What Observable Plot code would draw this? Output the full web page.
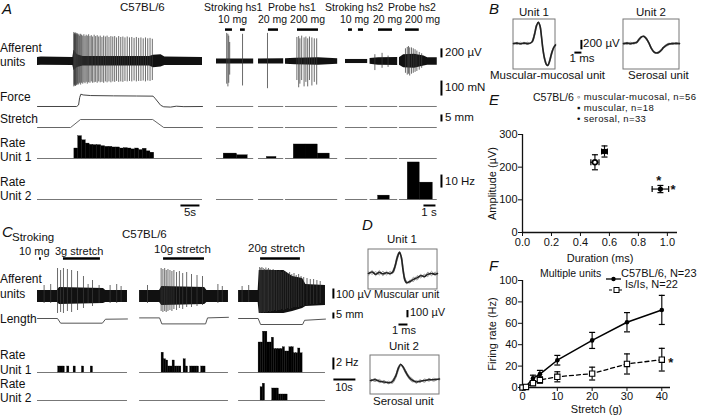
<!DOCTYPE html>
<html><head><meta charset="utf-8">
<script src="https://cdn.jsdelivr.net/npm/d3@7"></script>
<script src="https://cdn.jsdelivr.net/npm/@observablehq/plot@0.6"></script>
<style>
body{margin:0;background:#fff;}
#fig{position:relative;width:720px;height:415px;overflow:hidden;background:#fff;font-family:"Liberation Sans",Arial,sans-serif;color:#111;}
#fig div.t{position:absolute;white-space:nowrap;}
</style></head><body><div id="fig"></div>
<script>
// ======================= DATA =======================
// ---- Panel A, left recording (t in s; afferent µV; force mN; stretch mm; rate Hz) ----
const segA1 = [[0, 43.4]];
const noiseA1 = [[0,0,90,-90],[0,1,100,-80],[0,9.3,90,-90],[0,9.6,250,-200],[0,10.5,150,-130],[0,12,110,-100],[0,29.5,110,-100],[0,30.5,140,-140],[0,32.5,150,-120],[0,33.5,100,-90],[0,43.4,90,-90]];
const spikesA1 = [[9.55,640,560],[9.65,600,520],[9.75,620,540],[9.85,580,500],[9.95,630,550],[10.05,600,540],[10.2,620,520],[10.35,590,530],[10.5,610,500],[10.7,580,520],[10.9,600,500],[11.1,560,480],[11.35,600,520],[11.6,580,480],[11.9,560,500],[12.2,590,470],[12.5,550,490],[12.8,580,460],[13.1,560,500],[13.45,590,470],[13.8,550,480],[14.15,570,450],[14.5,540,480],[14.9,580,470],[15.3,550,460],[15.7,570,480],[16.1,540,450],[16.5,560,470],[16.95,530,460],[17.4,560,480],[17.85,540,450],[18.3,560,470],[18.8,530,450],[19.3,550,470],[19.8,540,450],[20.3,550,460],[20.8,520,440],[21.35,550,460],[21.9,530,450],[22.45,540,460],[23.0,520,440],[23.6,540,450],[24.2,520,440],[24.8,530,450],[25.4,510,430],[26.0,530,450],[26.6,510,440],[27.2,520,440],[27.8,500,430],[28.4,520,450],[29.0,500,430],[29.6,510,440],[30.2,490,420]];
const forceA1 = [[0,0],[10.3,0],[10.8,10],[11.1,60],[11.4,82],[12,77],[14,73],[20,71],[26,70],[30.4,69],[30.9,55],[32.4,8],[33.2,-2],[35,-4],[36.5,2],[38.5,-1],[43.4,0]];
const stretchA1 = [[0,0],[8.7,0],[11.3,5.7],[30.3,5.7],[33.2,0],[43.4,0]];
const rateA1Start = 9.7; // first 1-s bin
const rateA1 = [7.7,17.2,14.0,11.5,10.5,10.3,10.3,9.5,9.0,9.0,8.5,8.5,7.7,8.0,7.7,7.0,7.7,6.5,7.5,5.5,4.5];

// ---- Panel A, right recordings (stroking / probing) ----
const segA2 = [[0,3.1],[3.5,5.6],[5.75,10.1],[10.75,12.6],[12.8,15.1],[15.25,18.4]];
const stimA2 = [[0.75,1.33],[2.0,2.4],[4.33,5.17],[6.75,8.5],[11.0,11.33],[11.83,12.25],[13.5,14.67],[15.75,16.9]];
const noiseA2 = [[0,0,55,-55],[0,3.1,55,-55],[1,3.5,55,-55],[1,5.6,60,-55],[2,5.75,60,-60],[2,6.6,70,-70],[2,8.5,80,-80],[2,10.1,60,-60],[3,10.75,45,-45],[3,12.6,45,-45],[4,12.8,65,-60],[4,13.5,85,-85],[4,15.1,90,-90],[5,15.25,80,-80],[5,15.6,150,-140],[5,16.5,160,-150],[5,17.3,120,-100],[5,17.6,85,-85],[5,18.4,85,-85]];
const spikesA2 = [[0.85,620,500],[0.95,600,560],[1.02,560,480],[1.1,420,300],[2.17,600,540],[4.25,620,600],[6.7,530,420],[6.85,550,580],[6.95,500,500],[7.1,560,420],[7.3,520,560],[7.45,540,460],[7.6,500,560],[7.75,540,420],[7.95,520,540],[8.15,500,460],[8.35,500,520],[13.2,150,200],[13.8,180,150],[14.3,120,130],[15.75,280,260],[15.9,310,300],[16.0,330,280],[16.1,300,320],[16.25,300,280],[16.4,280,260],[16.55,260,240],[16.7,230,220],[16.9,200,190],[17.1,170,150]];
const rateA2u1 = [[0.6,1.7,3.8],[1.7,2.6,2.5],[4.2,5.0,1.2],[6.44,7.42,10.8],[7.42,8.44,10.8],[8.44,9.44,3.8]];
const rateA2u2 = [[13.47,14.44,3],[15.94,16.94,28.5],[16.94,18.03,13]];

// ---- Panel B waveforms (t in ms, µV) ----
const wfB1 = [[0,0],[0.5,10],[1,-5],[1.5,10],[2,0],[2.4,10],[2.7,50],[3.0,200],[3.3,400],[3.55,470],[3.8,380],[4.0,150],[4.2,-120],[4.45,-340],[4.7,-460],[4.9,-480],[5.15,-390],[5.4,-240],[5.65,-120],[5.85,-60],[6,-30]];
const wfB1a = [[0,30],[0.5,-20],[1,30],[1.5,-10],[2,30],[2.4,0],[2.7,80],[3.0,240],[3.3,420],[3.55,450],[3.8,340],[4.0,100],[4.2,-160],[4.45,-370],[4.7,-470],[4.9,-460],[5.15,-360],[5.4,-200],[5.65,-100],[5.85,-40],[6,-10]];
const wfB1b = [[0,-30],[0.5,30],[1,-20],[1.5,30],[2,-20],[2.4,20],[2.7,30],[3.0,160],[3.3,370],[3.55,480],[3.8,410],[4.0,190],[4.2,-80],[4.45,-300],[4.7,-440],[4.9,-490],[5.15,-420],[5.4,-280],[5.65,-150],[5.85,-80],[6,-50]];
const wfB2 = [[0,0],[0.5,10],[1,0],[1.5,10],[1.9,30],[2.2,90],[2.5,140],[2.85,160],[3.2,120],[3.6,20],[4.0,-110],[4.4,-190],[4.85,-205],[5.3,-160],[5.7,-90],[6.1,-40],[6.5,-10],[7,0],[7.5,5],[8,0]];
const wfB2a = [[0,30],[0.5,-20],[1,30],[1.5,-10],[1.9,50],[2.2,110],[2.5,150],[2.85,150],[3.2,100],[3.6,0],[4.0,-130],[4.4,-200],[4.85,-190],[5.3,-140],[5.7,-70],[6.1,-20],[6.5,10],[7,-20],[7.5,20],[8,-10]];
const wfB2b = [[0,-30],[0.5,30],[1,-20],[1.5,30],[1.9,10],[2.2,60],[2.5,120],[2.85,170],[3.2,140],[3.6,40],[4.0,-90],[4.4,-170],[4.85,-215],[5.3,-180],[5.7,-110],[6.1,-60],[6.5,-30],[7,20],[7.5,-15],[8,20]];

// ---- Panel C (t in s; afferent µV; length mm; rate Hz) ----
const segC = [[0,40.9],[46.4,86.8],[91.4,130.9]];
const stimC = [[0.9,1.8],[11.8,28.6],[57.3,75.9],[101.4,119.5]];
const noiseC = [[0,0,60,-60],[0,9,60,-60],[0,10,90,-80],[0,30,80,-70],[0,31,60,-60],[0,40.9,60,-60],[1,46.4,60,-60],[1,55.5,60,-60],[1,56.5,100,-90],[1,76,90,-80],[1,77,60,-60],[1,86.8,60,-60],[2,91.4,60,-60],[2,100.3,60,-60],[2,100.8,260,-170],[2,112,260,-170],[2,116,200,-150],[2,120.5,180,-120],[2,122,120,-100],[2,130.9,110,-90]];
const spikesC = [[3,110,70],[6,120,70],[9.1,280,170],[10.5,260,160],[11.8,280,170],[13.6,270,150],[15.5,260,160],[18.2,250,140],[20.9,200,120],[23,120,70],[25,160,100],[28,110,70],[33,110,70],[36,120,70],[38,100,60],
[50,110,70],[56.2,280,150],[57,270,160],[57.8,280,150],[58.5,260,160],[59.3,270,150],[60.2,260,140],[61.1,250,150],[62,260,130],[63.2,240,140],[64.5,250,120],[66,230,130],[67.8,240,110],[70,220,110],[72.5,210,100],[75,200,90],[82,120,70],[84,100,60],
[93,100,60],[96,110,60],[101,290,170],[101.5,280,170],[102,290,160],[102.6,280,170],[103.2,270,160],[103.8,285,165],[104.4,270,160],[105,280,150],[105.7,270,160],[106.4,260,150],[107.1,270,150],[107.8,260,140],[108.6,260,150],[109.4,250,140],[110.2,260,140],[111,240,130],[111.9,250,140],[112.8,240,130],[113.7,230,120],[114.6,240,130],[115.6,220,120],[116.6,230,110],[117.6,210,110],[118.7,220,110],[119.8,200,100],[121,190,100],[122.5,180,90],[124,170,80],[125.5,170,80],[127,160,80],[128.5,150,70]];
const lengthC = [[0,0,0],[0,9.1,0],[0,10.5,-3.9],[0,29.5,-3.9],[0,30.9,-0.6],[0,40.9,-0.4],[1,46.4,0.5],[1,55.5,0.5],[1,56.5,-4.5],[1,76.4,-4.5],[1,77.3,0.5],[1,86.8,1],[2,91.4,0],[2,100.3,0],[2,101.4,-5],[2,120.5,-5],[2,121.4,-1.5],[2,130.9,-0.5]];
const rateC1 = [[9.4,1],[10.4,1],[11.4,1],[13.5,1],[16.4,1],[20.2,1],[24.2,1],
[56.4,3.3],[57.4,2.2],[58.4,2],[59.4,1],[60.4,1],[61.4,2],[62.4,1],[63.4,1],[64.4,1],[66.4,2.2],[67.4,1],[69.4,1],[70.4,1],[71.4,1],[72.4,1],[74.4,1],[75.4,1],
[100.5,5],[101.5,5],[102.5,6.8],[103.5,6.8],[104.5,5],[105.5,5],[106.5,5.8],[107.5,3.9],[108.5,3.9],[109.5,3.9],[110.5,3.9],[111.5,4.2],[112.5,3.5],[113.5,3.5],[114.5,4.2],[115.5,4.2],[116.5,3.2],[117.5,3.2],[118.5,4],[119.5,3.2]];
const rateC2 = [[101.4,2.2],[102.4,2.8],[106.7,2],[107.7,2],[108.7,2],[109.7,1],[110.7,1],[111.7,1],[112.7,1]];

// ---- Panel D waveforms (t in ms, µV) ----
const wfD1 = [[0,0],[0.4,20],[0.8,-10],[1.2,15],[1.6,-5],[2.0,10],[2.4,0],[2.7,20],[2.95,100],[3.2,220],[3.45,290],[3.65,220],[3.85,40],[4.05,-90],[4.25,-125],[4.6,-110],[5.0,-80],[5.4,-60],[5.8,-30],[6.2,-40],[6.6,-10],[7.0,0],[7.4,-10],[7.67,0]];
const wfD1a = [[0,30],[0.4,-10],[0.8,25],[1.2,-20],[1.6,30],[2.0,-20],[2.4,30],[2.7,0],[2.95,70],[3.2,190],[3.45,270],[3.65,240],[3.85,80],[4.05,-60],[4.25,-110],[4.6,-130],[5.0,-50],[5.4,-90],[5.8,-10],[6.2,-60],[6.6,20],[7.0,-30],[7.4,20],[7.67,-20]];
const wfD1b = [[0,-30],[0.4,40],[0.8,-30],[1.2,40],[1.6,-30],[2.0,30],[2.4,-20],[2.7,40],[2.95,120],[3.2,250],[3.45,300],[3.65,200],[3.85,10],[4.05,-110],[4.25,-140],[4.6,-90],[5.0,-110],[5.4,-30],[5.8,-60],[6.2,-10],[6.6,-40],[7.0,30],[7.4,-30],[7.67,20]];
const wfD2 = [[0,0],[0.5,10],[1,-10],[1.5,-20],[2,-30],[2.4,-20],[2.8,60],[3.1,170],[3.35,220],[3.6,190],[3.9,120],[4.3,40],[4.7,0],[5.1,-20],[5.5,-10],[6,0],[6.5,10],[7,10],[7.67,20]];
const wfD2a = [[0,25],[0.5,-15],[1,15],[1.5,-40],[2,-10],[2.4,-40],[2.8,30],[3.1,140],[3.35,200],[3.6,200],[3.9,140],[4.3,60],[4.7,20],[5.1,-40],[5.5,10],[6,-25],[6.5,30],[7,-10],[7.67,35]];
const wfD2b = [[0,-25],[0.5,30],[1,-30],[1.5,0],[2,-45],[2.4,0],[2.8,80],[3.1,190],[3.35,230],[3.6,170],[3.9,100],[4.3,20],[4.7,-20],[5.1,0],[5.5,-30],[6,20],[6.5,-10],[7,30],[7.67,0]];

// ---- Panel E: spike amplitude vs duration ----
const eTypes = ["muscular-mucosal", "muscular", "serosal"];
const eDur = [0.50, 0.566, 0.952];
const eDurErr = [0.028, 0.02, 0.057];
const eAmp = [215, 248, 133];
const eAmpErr = [23, 17, 11];
const eStarX = [0.94, 1.04];
const eStarY = [168, 140];
const eTicksX = [0, 0.2, 0.4, 0.6, 0.8, 1.0];
const eTicksY = [0, 100, 200, 300];

// ---- Panel F: firing rate vs stretch ----
const fStretch = [0, 1, 3, 5, 10, 20, 30, 40];
const fWT = [0, 1, 8.5, 12.5, 25.5, 44, 61, 72.5];
const fWTErr = [0.5, 0.5, 3, 3.5, 4.5, 7.5, 9, 13.6];
const fIs = [0, 0.5, 4, 7, 10, 13, 22, 26];
const fIsErr = [0.5, 0.5, 2, 3, 4.7, 6, 9.4, 10.6];
const fTicksX = [0, 10, 20, 30, 40];
const fTicksY = [0, 20, 40, 60, 80, 100];

// ======================= DRAWING =======================
const root = document.getElementById("fig");
const INK = "#111";
function place(svg, left, top) {
  svg.style.position = "absolute"; svg.style.left = left + "px"; svg.style.top = top + "px";
  root.append(svg);
}
function strip(left, top, width, height, xd, yd, marks) {
  place(Plot.plot({width, height, margin: 0, x: {domain: xd, axis: null}, y: {domain: yd, axis: null},
    style: {background: "transparent", overflow: "visible"}, marks}), left, top);
}
function txt(s, left, cy, size = 11.5, o = {}) {
  const d = document.createElement("div");
  d.className = "t"; d.textContent = s;
  const lh = o.lh || size * 1.2;
  d.style.left = left + "px"; d.style.top = (cy - lh / 2) + "px";
  d.style.fontSize = size + "px"; d.style.lineHeight = lh + "px";
  if (o.center) d.style.transform = "translateX(-50%)";
  if (o.italic) d.style.fontStyle = "italic";
  if (o.ls) d.style.letterSpacing = o.ls + "px";
  root.append(d);
  return d;
}
const segRule = (segs, y) => Plot.ruleY(segs, {x1: d => d[0], x2: d => d[1], y, stroke: "#777", strokeWidth: 1});
const aff = (noise, spikes) => [
  Plot.areaY(noise, {x: d => d[1], y1: d => d[3], y2: d => d[2], z: d => d[0], fill: INK, curve: "linear"}),
  Plot.ruleX(spikes, {x: d => d[0], y1: d => -d[2], y2: d => d[1], stroke: "#3a3a3a", strokeWidth: 0.75})
];
const bar = (x1, x2, y1, y2, w = 2) => Plot.link([0], {x1, x2, y1, y2, stroke: "#000", strokeWidth: w});

// ---- Panel A left ----
const xA1 = [0, 43.4];
strip(37, 27, 165, 68, xA1, [-750, 750], aff(noiseA1, spikesA1));
strip(37, 78, 165, 32, xA1, [-26.7, 186.7], [Plot.line(forceA1, {x: d => d[0], y: d => d[1], stroke: "#444", strokeWidth: 1})]);
strip(37, 113, 165, 17, xA1, [-2.14, 10], [Plot.line(stretchA1, {x: d => d[0], y: d => d[1], stroke: "#666", strokeWidth: 1})]);
strip(37, 128, 165, 31, xA1, [-0.77, 23.1], [
  segRule(segA1, 0),
  Plot.rect(rateA1, {x1: (d, i) => rateA1Start + i, x2: (d, i) => rateA1Start + i + 1, y1: 0, y2: d => d, fill: "#000", stroke: "#000", strokeWidth: 0.3})
]);
strip(37, 160, 165, 55, xA1, [-12.3, 30], [segRule(segA1, 0), bar(37.6, 42.6, -4.6, -4.6)]);

// ---- Panel A right ----
const xA2 = [0, 18.42];
strip(216, 27, 221, 68, xA2, [-750, 750], [
  ...aff(noiseA2, spikesA2),
  Plot.ruleY(stimA2, {x1: d => d[0], x2: d => d[1], y: 704, stroke: "#000", strokeWidth: 2.5}),
  bar(18.75, 18.75, 90, 290)
]);
strip(216, 78, 221, 32, xA2, [-26.7, 186.7], [segRule(segA2, 0), bar(18.75, 18.75, 73, 173)]);
strip(216, 113, 221, 17, xA2, [-2.14, 10], [segRule(segA2, 0), bar(18.75, 18.75, 4.3, 9.3)]);
strip(216, 128, 221, 31, xA2, [-0.77, 23.1], [
  segRule(segA2, 0),
  Plot.rect(rateA2u1, {x1: d => d[0], x2: d => d[1], y1: 0, y2: d => d[2], fill: "#000", stroke: "#000", strokeWidth: 0.3})
]);
strip(216, 160, 221, 55, xA2, [-12.3, 30], [
  segRule(segA2, 0),
  Plot.rect(rateA2u2, {x1: d => d[0], x2: d => d[1], y1: 0, y2: d => d[2], fill: "#000", stroke: "#000", strokeWidth: 0.3}),
  bar(18.75, 18.75, 9.2, 19.2),
  bar(17.25, 18.25, -4.6, -4.6)
]);

// ---- Panel B ----
function wave(traces, box) {
  const rows = traces.flatMap((pts, k) => pts.map(p => ({k, t: p[0], v: p[1]})));
  return [
    Plot.rect([box], {x1: d => d[0], x2: d => d[1], y1: d => d[2], y2: d => d[3], fill: "none", stroke: "#777", strokeWidth: 1}),
    Plot.line(rows.filter(r => r.k > 0), {x: "t", y: "v", z: "k", stroke: "#999", strokeWidth: 1, curve: "catmull-rom"}),
    Plot.line(rows.filter(r => r.k === 0), {x: "t", y: "v", stroke: "#222", strokeWidth: 1.6, curve: "catmull-rom"})
  ];
}
strip(513, 19, 70, 61, [0, 10], [-812, 530], [
  ...wave([wfB1, wfB1a, wfB1b], [0, 6, -570, 530]),
  bar(9.7, 9.7, -125, 81), bar(8.7, 9.7, -198, -198)
]);
strip(623, 19, 56, 50, [0, 8], [-570, 530], wave([wfB2, wfB2a, wfB2b], [0, 8, -570, 530]));

// ---- Panel C ----
const xC = [0, 165];
strip(37, 250, 363, 68, xC, [-220, 460], [
  ...aff(noiseC, spikesC),
  Plot.ruleY(stimC, {x1: d => d[0], x2: d => d[1], y: 380, stroke: "#000", strokeWidth: 2.5}),
  bar(134.5, 134.5, -20, 80)
]);
strip(37, 308, 363, 20, xC, [-8.33, 8.33], [
  Plot.line(lengthC, {x: d => d[1], y: d => d[2], z: d => d[0], stroke: "#555", strokeWidth: 1}),
  bar(134.5, 134.5, 0, 5)
]);
strip(37, 330, 363, 42, xC, [0, 7], [
  segRule(segC, 0),
  Plot.rect(rateC1, {x1: d => d[0], x2: d => d[0] + 1, y1: 0, y2: d => d[1], fill: "#000", stroke: "#000", strokeWidth: 0.3}),
  bar(134.5, 134.5, 0.5, 2.5)
]);
strip(37, 376, 363, 24, xC, [0, 4], [
  segRule(segC, 0),
  Plot.rect(rateC2, {x1: d => d[0], x2: d => d[0] + 1, y1: 0, y2: d => d[1], fill: "#000", stroke: "#000", strokeWidth: 0.3}),
  bar(134.5, 144.5, 3.5, 3.5)
]);

// ---- Panel D ----
strip(368, 249, 80, 81, [0, 8.89], [-781, 329], [
  ...wave([wfD1, wfD1a, wfD1b], [0, 7.67, -219, 329]),
  bar(4.33, 4.33, -600, -500), bar(3.33, 4.33, -699, -699)
]);
strip(370, 355, 69, 39, [0, 7.67], [-192, 342.5], wave([wfD2, wfD2a, wfD2b], [0, 7.67, -192, 342.5]));

// ---- Panel E ----
const hcap = {draw(c, s) { const r = Math.sqrt(s / Math.PI); c.moveTo(-r, 0); c.lineTo(r, 0); }};
const vcap = {draw(c, s) { const r = Math.sqrt(s / Math.PI); c.moveTo(0, -r); c.lineTo(0, r); }};
const eRows = eTypes.map((k, i) => ({k, x: eDur[i], ex: eDurErr[i], y: eAmp[i], ey: eAmpErr[i]}));
const eStars = eStarX.map((x, i) => ({x, y: eStarY[i]}));
place(Plot.plot({
  width: 214, height: 141, marginLeft: 42, marginTop: 5, marginBottom: 38, marginRight: 17,
  style: {background: "transparent", overflow: "visible", fontSize: "11px", fontFamily: '"Liberation Sans", Arial, sans-serif', color: "#111"},
  x: {domain: [0, 1.07]}, y: {domain: [0, 300]},
  marks: [
    Plot.axisX({ticks: eTicksX, tickFormat: d => d.toFixed(1), tickSize: 4, tickPadding: 2, label: "Duration (ms)", labelAnchor: "center", labelArrow: "none", labelOffset: 29}),
    Plot.axisY({ticks: eTicksY, tickSize: 4, tickPadding: 1, label: "Amplitude (µV)", labelAnchor: "center", labelArrow: "none", labelOffset: 34}),
    Plot.ruleY([0], {strokeWidth: 1.3}), Plot.ruleX([0], {strokeWidth: 1.3}),
    Plot.ruleX(eRows, {x: "x", y1: d => d.y - d.ey, y2: d => d.y + d.ey, strokeWidth: 1.2}),
    Plot.ruleY(eRows, {y: "y", x1: d => d.x - d.ex, x2: d => d.x + d.ex, strokeWidth: 1.2}),
    Plot.dot(eRows, {x: "x", y: d => d.y - d.ey, symbol: hcap, r: 3, stroke: "#000", fill: "none", strokeWidth: 1.2}),
    Plot.dot(eRows, {x: "x", y: d => d.y + d.ey, symbol: hcap, r: 3, stroke: "#000", fill: "none", strokeWidth: 1.2}),
    Plot.dot(eRows, {x: d => d.x - d.ex, y: "y", symbol: vcap, r: 3, stroke: "#000", fill: "none", strokeWidth: 1.2}),
    Plot.dot(eRows, {x: d => d.x + d.ex, y: "y", symbol: vcap, r: 3, stroke: "#000", fill: "none", strokeWidth: 1.2}),
    Plot.dot(eRows.filter(d => d.k === "muscular-mucosal"), {x: "x", y: "y", r: 2.4, fill: "#fff", stroke: "#000", strokeWidth: 1.6}),
    Plot.dot(eRows.filter(d => d.k === "muscular"), {x: "x", y: "y", symbol: "square", r: 2.8, fill: "#000"}),
    Plot.dot(eRows.filter(d => d.k === "serosal"), {x: "x", y: "y", r: 2.6, fill: "#000"}),
    Plot.text(eStars, {x: "x", y: "y", text: () => "*", fontSize: 13, fontWeight: "bold", dy: 3})
  ]
}), 480, 129);

// ---- Panel F ----
const fRows = fStretch.flatMap((x, i) => [{g: "wt", x, y: fWT[i], e: fWTErr[i]}, {g: "is", x, y: fIs[i], e: fIsErr[i]}]);
place(Plot.plot({
  width: 208, height: 140, marginLeft: 42, marginTop: 5, marginBottom: 28, marginRight: 18,
  style: {background: "transparent", overflow: "visible", fontSize: "11px", fontFamily: '"Liberation Sans", Arial, sans-serif', color: "#111"},
  x: {domain: [0, 42.5]}, y: {domain: [0, 100]},
  marks: [
    Plot.axisX({ticks: fTicksX, tickSize: 4, tickPadding: 1, label: "Stretch (g)", labelAnchor: "center", labelArrow: "none", labelOffset: 25}),
    Plot.axisY({ticks: fTicksY, tickSize: 4, tickPadding: 1, label: "Firing rate (Hz)", labelAnchor: "center", labelArrow: "none", labelOffset: 34}),
    Plot.ruleY([0], {strokeWidth: 1.3}), Plot.ruleX([0], {strokeWidth: 1.3}),
    Plot.ruleX(fRows, {x: "x", y1: d => d.y - d.e, y2: d => d.y + d.e, strokeWidth: 1.2}),
    Plot.dot(fRows, {x: "x", y: d => d.y - d.e, symbol: hcap, r: 3, stroke: "#000", fill: "none", strokeWidth: 1.2}),
    Plot.dot(fRows, {x: "x", y: d => d.y + d.e, symbol: hcap, r: 3, stroke: "#000", fill: "none", strokeWidth: 1.2}),
    Plot.line(fRows.filter(d => d.g === "wt"), {x: "x", y: "y", stroke: "#000", strokeWidth: 1.5}),
    Plot.line(fRows.filter(d => d.g === "is"), {x: "x", y: "y", stroke: "#000", strokeWidth: 1.3, strokeDasharray: "4,3"}),
    Plot.dot(fRows.filter(d => d.g === "wt"), {x: "x", y: "y", r: 2.3, fill: "#000"}),
    Plot.dot(fRows.filter(d => d.g === "is"), {x: "x", y: "y", symbol: "square", r: 3, fill: "#fff", stroke: "#000", strokeWidth: 1.1}),
    Plot.text(fRows.filter(d => d.g === "is" && d.x === 40), {x: "x", y: "y", text: () => "*", dx: 9, dy: 3, fontSize: 13, fontWeight: "bold"})
  ]
}), 480, 275);

// ======================= TEXT =======================
const I = {italic: true}, C = {center: true};
// A
txt("A", 2, 9, 15, I); txt("C57BL/6", 120, 8, 11.5);
txt("Stroking hs1", 204, 7, 10.5); txt("10 mg", 218, 19, 10.5);
txt("Probe hs1", 268, 7, 10.5); txt("20 mg 200 mg", 258, 19, 10.5);
txt("Stroking hs2", 325, 7, 10.5); txt("10 mg", 340, 19, 10.5);
txt("Probe hs2", 388, 7, 10.5); txt("20 mg 200 mg", 373, 19, 10.5);
txt("Afferent", 0, 48, 12); txt("units", 0, 62, 12);
txt("Force", 0, 97, 12); txt("Stretch", 0, 119, 12);
txt("Rate", 0, 143, 12); txt("Unit 1", 0, 157, 12);
txt("Rate", 0, 182, 12); txt("Unit 2", 0, 196, 12);
txt("200 µV", 445, 53, 11.5); txt("100 mN", 445, 88, 11.5); txt("5 mm", 445, 118, 11.5); txt("10 Hz", 445, 182, 11.5);
txt("5s", 190, 213, 11.5, C); txt("1 s", 429, 213, 11.5, C);
// B
txt("B", 489, 9, 15, I);
txt("Unit 1", 534, 13, 11.5, C); txt("Unit 2", 651, 13, 11.5, C);
txt("200 µV", 583, 44, 11.5); txt("1 ms", 582, 59, 11.5, C);
txt("Muscular-mucosal unit", 490, 76, 11.5); txt("Serosal unit", 628, 76, 11.5);
// E
txt("E", 489, 100, 15, I); txt("C57BL/6", 533, 97, 10.5);
txt("◦ muscular-mucosal, n=56", 577, 96.5, 9.5, {lh: 9, ls: 0.4});
txt("▪ muscular, n=18", 577, 107.5, 9.5, {lh: 9, ls: 0.4});
txt("• serosal, n=33", 577, 118.5, 9.5, {lh: 9, ls: 0.4});
// F
txt("F", 489, 266, 15, I); txt("Multiple units", 540, 273, 10.5);
txt("C57BL/6, N=23", 621, 273, 11, {lh: 10});
txt("Is/Is, N=22", 625, 284, 11, {lh: 10});
const g1 = document.createElement("div"); g1.className = "t";
g1.style.left = "606px"; g1.style.top = "269px";
g1.innerHTML = '<svg width="15" height="8"><line x1="0" y1="4" x2="15" y2="4" stroke="#000" stroke-width="1.3"/><circle cx="7.5" cy="4" r="2.2" fill="#000"/></svg>';
root.append(g1);
const g2 = document.createElement("div"); g2.className = "t";
g2.style.left = "609px"; g2.style.top = "280px";
g2.innerHTML = '<svg width="15" height="8"><line x1="0" y1="4" x2="15" y2="4" stroke="#000" stroke-width="1.2" stroke-dasharray="3,2"/><rect x="5" y="1.5" width="5" height="5" fill="#fff" stroke="#000"/></svg>';
root.append(g2);
// C
txt("C", 2, 232, 15, I); txt("Stroking", 12, 238, 11.5);
txt("10 mg", 19, 252, 11); txt("3g stretch", 55, 252, 11);
txt("C57BL/6", 122, 235, 11.5); txt("10g stretch", 154, 250, 11.5); txt("20g stretch", 248, 249, 11.5);
txt("Afferent", 0, 279, 12); txt("units", 0, 294, 12); txt("Length", 0, 319, 12);
txt("Rate", 0, 355, 12); txt("Unit 1", 0, 370, 12); txt("Rate", 0, 384, 12); txt("Unit 2", 0, 398, 12);
txt("100 µV", 336, 295, 11); txt("5 mm", 336, 315, 11); txt("2 Hz", 336, 363, 11); txt("10s", 344, 388, 11, C);
// D
txt("D", 362, 225, 15, I); txt("Unit 1", 402, 240, 11.5, C);
txt("Muscular unit", 374, 295, 11);
txt("100 µV", 410, 313, 11); txt("1 ms", 404, 331, 11, C);
txt("Unit 2", 404, 347, 11.5, C); txt("Serosal unit", 373, 402, 11.5);
</script></body></html>
